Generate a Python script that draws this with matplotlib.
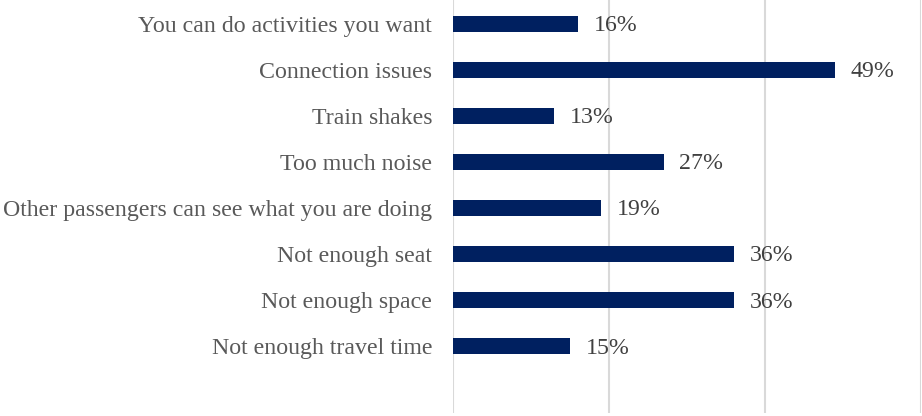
import matplotlib.pyplot as plt

categories = ["You can do activities you want", "Connection issues", "Train shakes",
              "Too much noise", "Other passengers can see what you are doing",
              "Not enough seat", "Not enough space", "Not enough travel time"]
values = [16, 49, 13, 27, 19, 36, 36, 15]

plt.rcParams['font.family'] = ['Liberation Serif', 'DejaVu Serif']

fig = plt.figure(figsize=(9.22, 4.16), dpi=100)
ax = fig.add_axes([453/922, 3/416, 468/922, 413/416])

ypos = list(range(len(categories)))
ax.barh(ypos, values, height=0.35, color="#002060", zorder=3)

for y, v in zip(ypos, values):
    ax.text(v + 2.0, y + 0.04, f"{v}%", va="center", ha="left", fontsize=17.2, color="#404040")

ax.set_yticks(ypos)
ax.set_yticklabels(categories, fontsize=17.2, color="#595959")
ax.tick_params(axis="y", length=0, pad=15)
ax.set_ylim(8.45, -0.52)

ax.set_xlim(0, 60)
ax.set_xticks([0, 20, 40, 60])
ax.tick_params(axis="x", length=0, labelbottom=False)
ax.grid(axis="x", color="#d9d9d9", linewidth=1.5, zorder=0)

for s in ax.spines.values():
    s.set_visible(False)

fig.savefig("out.png", dpi=100)
